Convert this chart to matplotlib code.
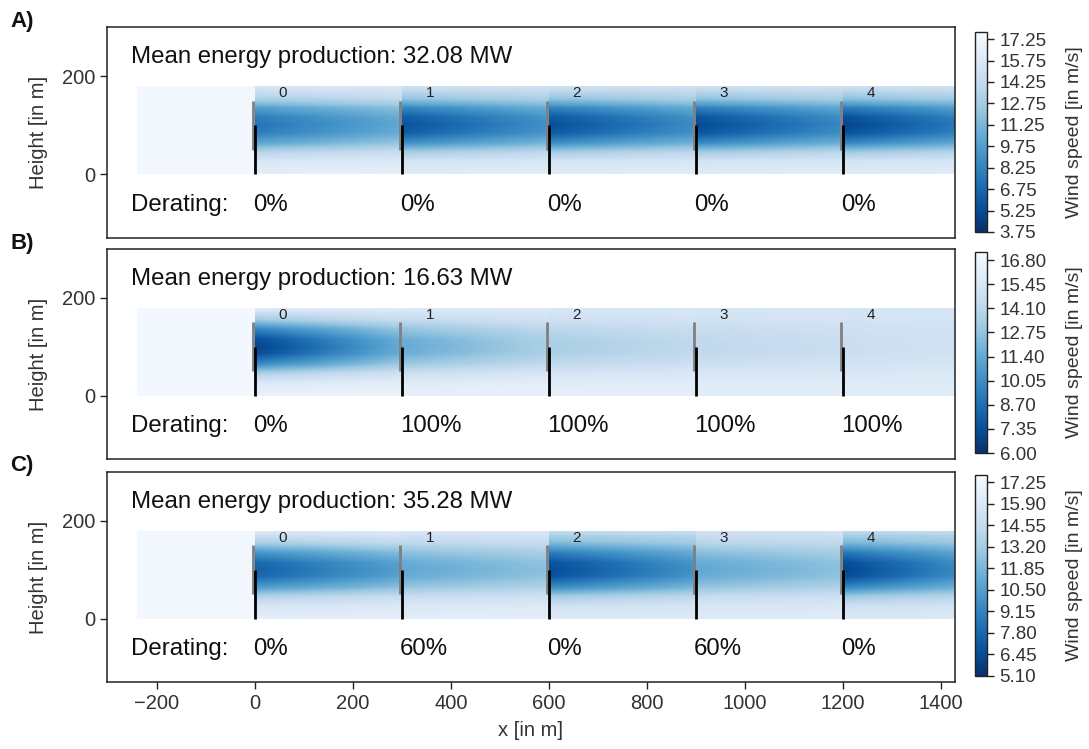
import numpy as np
import matplotlib
matplotlib.use("Agg")
import matplotlib.pyplot as plt

plt.rcParams['font.family'] = ['Liberation Sans', 'DejaVu Sans']

# ---------------- data ----------------
turbine_x = [0, 300, 600, 900, 1200]
turbine_ids = ["0", "1", "2", "3", "4"]
hub_height = 100
rotor_diameter = 100
field_x_start = -240
field_x_end = 1430
field_top = 180

panel_labels = ["A)", "B)", "C)"]
mean_power = [32.08, 16.63, 35.28]
derating_A = ["0%", "0%", "0%", "0%", "0%"]
derating_B = ["0%", "100%", "100%", "100%", "100%"]
derating_C = ["0%", "60%", "0%", "60%", "0%"]

# colour-scale limits and colourbar ticks
cbar_min = [3.75, 6.00, 5.10]
cbar_max = [17.75, 17.25, 17.70]
cbar_step = [1.50, 1.35, 1.35]
cbar_nticks = [10, 9, 10]

# wind speeds (m/s)
upstream_speed = [17.3, 17.0, 17.3]
# hub-height speed right behind each turbine / at end of its segment
wake_start_A = [7.4, 5.6, 5.4, 5.15, 4.9]
wake_end_A = [10.3, 8.9, 8.65, 8.4, 7.6]
wake_start_B = [6.8, 11.4, 13.4, 14.2, 14.7]
wake_end_B = [11.4, 13.4, 14.2, 14.7, 15.0]
wake_start_C = [7.4, 11.0, 6.4, 11.0, 6.1]
wake_end_C = [10.5, 12.4, 9.8, 12.4, 9.3]
# speed at the top and bottom edge of each segment
top_A = [15.65, 14.95, 14.95, 14.95, 14.95]
top_B = [15.9, 15.7, 15.5, 15.4, 15.3]
top_C = [16.05, 15.7, 14.55, 15.3, 14.4]
bottom_A = [16.35, 16.1, 16.1, 16.1, 16.1]
bottom_B = [16.5, 16.3, 16.1, 16.0, 15.9]
bottom_C = [16.4, 16.3, 16.0, 16.1, 15.9]
# vertical wake profile (share of the hub-height deficit)
profile_heights = [0, 25, 45, 65, 85, 100, 115, 135, 155, 180]
profile_share = [0.0, 0.08, 0.3, 0.7, 0.95, 1.0, 0.95, 0.7, 0.3, 0.0]

panels = [
    (wake_start_A, wake_end_A, top_A, bottom_A, derating_A),
    (wake_start_B, wake_end_B, top_B, bottom_B, derating_B),
    (wake_start_C, wake_end_C, top_C, bottom_C, derating_C),
]

# ---------------- layout ----------------
W, H = 1089, 749
fig = plt.figure(figsize=(W / 100, H / 100), dpi=100)

ax_px = [(27, 238), (249, 459), (472, 682)]
cb_px = [(32, 232), (252, 453), (475, 676)]
ax_left, ax_right = 107, 955
cb_left, cb_w = 975, 12

h_arr = np.array(profile_heights, dtype=float)
share = np.array(profile_share)

# display grid (cell edges / centres) for rendering the field smoothly
xe = np.arange(field_x_start, field_x_end + 0.1, 2.0)
ye = np.arange(0, field_top + 0.1, 2.0)
xc = 0.5 * (xe[:-1] + xe[1:])
yc = 0.5 * (ye[:-1] + ye[1:])
share_fine = np.interp(yc, h_arr, share)

for k, (ws, we, tops, bots, der) in enumerate(panels):
    t, b = ax_px[k]
    ax = fig.add_axes([ax_left / W, 1 - b / H, (ax_right - ax_left) / W, (b - t) / H])

    Z = np.full((len(yc), len(xc)), upstream_speed[k])
    for i, tx in enumerate(turbine_x):
        x1 = turbine_x[i + 1] if i + 1 < len(turbine_x) else field_x_end
        m = (xc >= tx) & (xc < x1)
        frac = (xc[m] - tx) / (x1 - tx)
        centre = ws[i] + (we[i] - ws[i]) * frac
        bg = np.where(yc <= hub_height, bots[i], tops[i])[:, None]
        Z[:, m] = bg + (centre[None, :] - bg) * share_fine[:, None]

    pm = ax.pcolormesh(xe, ye, Z, shading='flat', cmap='Blues_r',
                       vmin=cbar_min[k], vmax=cbar_max[k], rasterized=True)

    # turbines
    for tx, tid in zip(turbine_x, turbine_ids):
        ax.plot([tx - 3, tx - 3], [hub_height - rotor_diameter / 2, hub_height + rotor_diameter / 2],
                color='#808080', lw=2.0, solid_capstyle='butt', zorder=3)
        ax.plot([tx + 1, tx + 1], [0, hub_height], color='black', lw=2.0,
                solid_capstyle='butt', zorder=4)
        ax.text(tx + 57, 165, tid, ha='center', va='center', fontsize=11, color='#222222', zorder=5)

    ax.text(-253, 239, f"Mean energy production: {mean_power[k]:.2f} MW",
            ha='left', va='center', fontsize=17.3, color='#111111')
    ax.text(-253, -63, "Derating:", ha='left', va='center', fontsize=17.3, color='#111111')
    for tx, d in zip(turbine_x, der):
        ax.text(tx - 4, -63, d, ha='left', va='center', fontsize=17.3, color='#111111')

    ax.set_xlim(-302, 1429)
    ax.set_ylim(-130, 300)
    ax.set_yticks([0, 200])
    ax.set_xticks(np.arange(-200, 1401, 200))
    ax.tick_params(labelsize=14.5, length=5, width=1, colors='#222222', labelcolor='#333333')
    for s in ax.spines.values():
        s.set_linewidth(1.1)
        s.set_color('#222222')
    ax.set_ylabel("Height [in m]", fontsize=14.5, color='#333333', labelpad=10)
    if k < 2:
        ax.set_xticklabels([])
        ax.tick_params(axis='x', length=0)
    else:
        ax.set_xlabel("x [in m]", fontsize=14.5, color='#333333', labelpad=6)

    fig.text(10 / W, 1 - (t - 6) / H, panel_labels[k], fontsize=16, fontweight='bold',
             ha='left', va='center', color='#111111')

    ct, cbt = cb_px[k]
    cax = fig.add_axes([cb_left / W, 1 - cbt / H, cb_w / W, (cbt - ct) / H])
    cb = fig.colorbar(pm, cax=cax)
    ticks = [cbar_min[k] + j * cbar_step[k] for j in range(cbar_nticks[k])]
    cb.set_ticks(ticks)
    cb.set_ticklabels([f"{v:.2f}" for v in ticks])
    cb.ax.tick_params(labelsize=13.5, length=5, width=1, colors='#222222', labelcolor='#333333', pad=4)
    cb.outline.set_linewidth(1.0)
    cb.outline.set_edgecolor('#222222')
    cb.set_label("Wind speed [in m/s]", fontsize=14, color='#333333', labelpad=14)

fig.savefig("out.png", dpi=100)
